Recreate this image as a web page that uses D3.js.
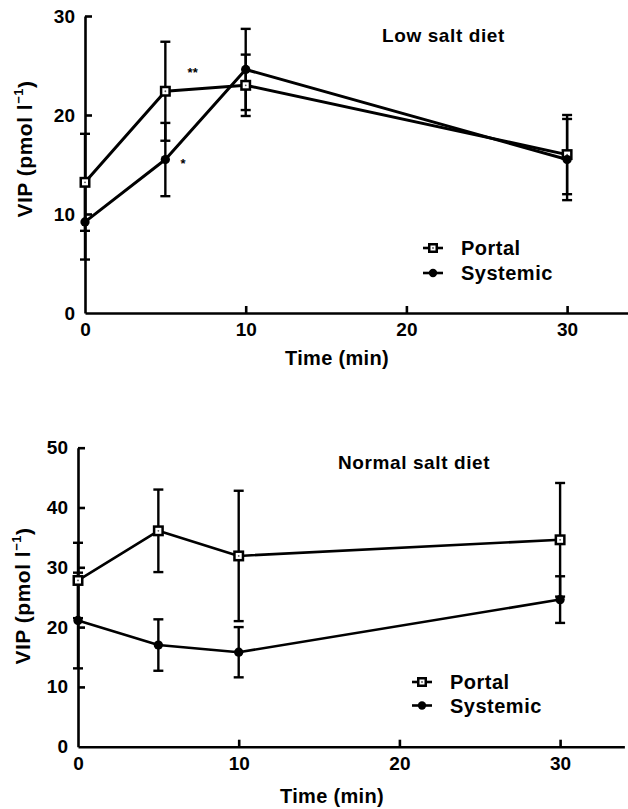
<!DOCTYPE html>
<html><head><meta charset="utf-8">
<script src="https://cdn.jsdelivr.net/npm/d3@7"></script>
<style>
html,body{margin:0;padding:0;background:#fff;}
text{font-family:"Liberation Sans",Arial,Helvetica,sans-serif;fill:#000;}
</style></head>
<body>
<svg id="c" width="628" height="809"></svg>
<script>
// ---- data ----
const times = [0, 5, 10, 30];
const xTicks = [0, 10, 20, 30];
const lowTicks = [0, 10, 20, 30];
const normalTicks = [0, 10, 20, 30, 40, 50];
const seriesNames = ["Portal", "Systemic"];

const lowPortal = [13.2, 22.4, 23.0, 16.0];
const lowPortalErr = [4.9, 5.0, 3.1, 4.0];
const lowSystemic = [9.2, 15.5, 24.6, 15.5];
const lowSystemicErr = [3.8, 3.7, 4.1, 4.1];

const normalPortal = [27.8, 36.1, 31.9, 34.6];
const normalPortalErr = [6.3, 6.9, 10.9, 9.5];
const normalSystemic = [21.1, 17.0, 15.8, 24.6];
const normalSystemicErr = [8.0, 4.3, 4.2, 3.9];

const svg = d3.select("#c");

function panel(opts) {
  const g = svg.append("g");
  const x = d3.scaleLinear().domain([0, 34]).range([opts.x0, opts.x0 + 34 * opts.xUnit]);
  const y = d3.scaleLinear().domain([0, opts.yMax]).range([opts.yBottom, opts.yTop]);

  const ya = g.append("g").attr("transform", `translate(${opts.x0},0)`)
    .call(d3.axisLeft(y).tickValues(opts.yTicks).tickSizeInner(-7).tickSizeOuter(0).tickPadding(10));
  const xa = g.append("g").attr("transform", `translate(0,${opts.yBottom})`)
    .call(d3.axisBottom(x).tickValues(xTicks).tickSizeInner(-7).tickSizeOuter(0).tickPadding(10));
  [ya, xa].forEach(a => {
    a.selectAll("path,line").attr("stroke", "#000").attr("stroke-width", 2.6);
    a.selectAll("text").attr("font-size", 19).attr("font-weight", "bold").attr("fill", "#000")
      .attr("font-family", "Liberation Sans, Arial, sans-serif");
  });
  xa.selectAll(".tick").filter(d => d === 0).select("line").remove();
  ya.selectAll(".tick").filter(d => d === 0).select("line").remove();

  g.append("text").attr("x", opts.xLabelX).attr("y", opts.xLabelY)
    .attr("text-anchor", "middle").attr("font-size", 20).attr("font-weight", "bold")
    .attr("letter-spacing", 0.3).text("Time (min)");
  const yl = g.append("text")
    .attr("transform", `translate(${opts.yLabelX},${opts.yLabelY}) rotate(-90)`)
    .attr("text-anchor", "middle").attr("font-size", 21).attr("font-weight", "bold")
    .attr("letter-spacing", 0.5).attr("dy", "0.35em");
  yl.append("tspan").text("VIP (pmol l");
  yl.append("tspan").attr("font-size", 13).attr("dy", "-0.7em").text("−1");
  yl.append("tspan").attr("dy", "0.45em").text(")");

  g.append("text").attr("x", opts.titleX).attr("y", opts.titleY)
    .attr("font-size", 19).attr("font-weight", "bold").attr("letter-spacing", 0.6)
    .attr("dy", "0.35em").text(opts.title);

  const series = [
    {vals: opts.portal, err: opts.portalErr, kind: "square"},
    {vals: opts.systemic, err: opts.systemicErr, kind: "circle"}
  ];

  series.forEach(s => {
    const eb = g.append("g").attr("stroke", "#000").attr("stroke-width", 2.4);
    times.forEach((t, i) => {
      const cx = x(t), hi = y(s.vals[i] + s.err[i]), lo = y(s.vals[i] - s.err[i]);
      eb.append("line").attr("x1", cx).attr("x2", cx).attr("y1", hi).attr("y2", lo);
      eb.append("line").attr("x1", cx - 5).attr("x2", cx + 5).attr("y1", hi).attr("y2", hi);
      eb.append("line").attr("x1", cx - 5).attr("x2", cx + 5).attr("y1", lo).attr("y2", lo);
    });
  });

  const line = d3.line().x((d, i) => x(times[i])).y(d => y(d));
  series.forEach(s => {
    g.append("path").datum(s.vals).attr("d", line).attr("fill", "none")
      .attr("stroke", "#000").attr("stroke-width", opts.lineW).attr("stroke-linejoin", "round");
  });

  function marker(sel, kind, cx, cy, sz) {
    if (kind === "square") {
      sel.append("rect").attr("x", cx - sz / 2).attr("y", cy - sz / 2).attr("width", sz).attr("height", sz)
        .attr("fill", "#fff").attr("stroke", "#000").attr("stroke-width", 2.5);
      sel.append("circle").attr("cx", cx).attr("cy", cy).attr("r", 0.9).attr("fill", "#555");
    } else {
      sel.append("circle").attr("cx", cx).attr("cy", cy).attr("r", sz / 2 + 0.4).attr("fill", "#000");
    }
  }
  series.forEach(s => {
    times.forEach((t, i) => marker(g, s.kind, x(t), y(s.vals[i]), 8.5));
  });

  series.forEach((s, k) => {
    const ly = opts.legY + k * opts.legGap;
    g.append("line").attr("x1", opts.legX).attr("x2", opts.legX + 20).attr("y1", ly).attr("y2", ly)
      .attr("stroke", "#000").attr("stroke-width", 2.6);
    marker(g, s.kind, opts.legX + 10, ly, 7.5);
    g.append("text").attr("x", opts.legX + 38).attr("y", ly).attr("dy", "0.35em")
      .attr("font-size", 20).attr("font-weight", "bold").attr("letter-spacing", 0.5)
      .text(seriesNames[k]);
  });

  return {g, x, y};
}

const lowPanel = panel({
  x0: 85, xUnit: 16.07, yTop: 16, yBottom: 313, yMax: 30, yTicks: lowTicks,
  xLabelX: 337, xLabelY: 365, yLabelX: 25, yLabelY: 149,
  titleX: 382, titleY: 35, title: "Low salt diet",
  portal: lowPortal, portalErr: lowPortalErr, systemic: lowSystemic, systemicErr: lowSystemicErr,
  legX: 423, legY: 248, legGap: 25, lineW: 3
});
lowPanel.g.append("text").attr("x", lowPanel.x(6.7)).attr("y", lowPanel.y(23.8)).attr("text-anchor", "middle")
  .attr("font-size", 13).attr("font-weight", "bold").text("**");
lowPanel.g.append("text").attr("x", lowPanel.x(6.1)).attr("y", lowPanel.y(14.6)).attr("text-anchor", "middle")
  .attr("font-size", 13).attr("font-weight", "bold").text("*");

panel({
  x0: 78, xUnit: 16.07, yTop: 447.7, yBottom: 746.7, yMax: 50, yTicks: normalTicks,
  xLabelX: 332, xLabelY: 803, yLabelX: 23, yLabelY: 596,
  titleX: 338, titleY: 462, title: "Normal salt diet",
  portal: normalPortal, portalErr: normalPortalErr, systemic: normalSystemic, systemicErr: normalSystemicErr,
  legX: 412, legY: 682, legGap: 23.5, lineW: 2.6
});
</script>
</body></html>
